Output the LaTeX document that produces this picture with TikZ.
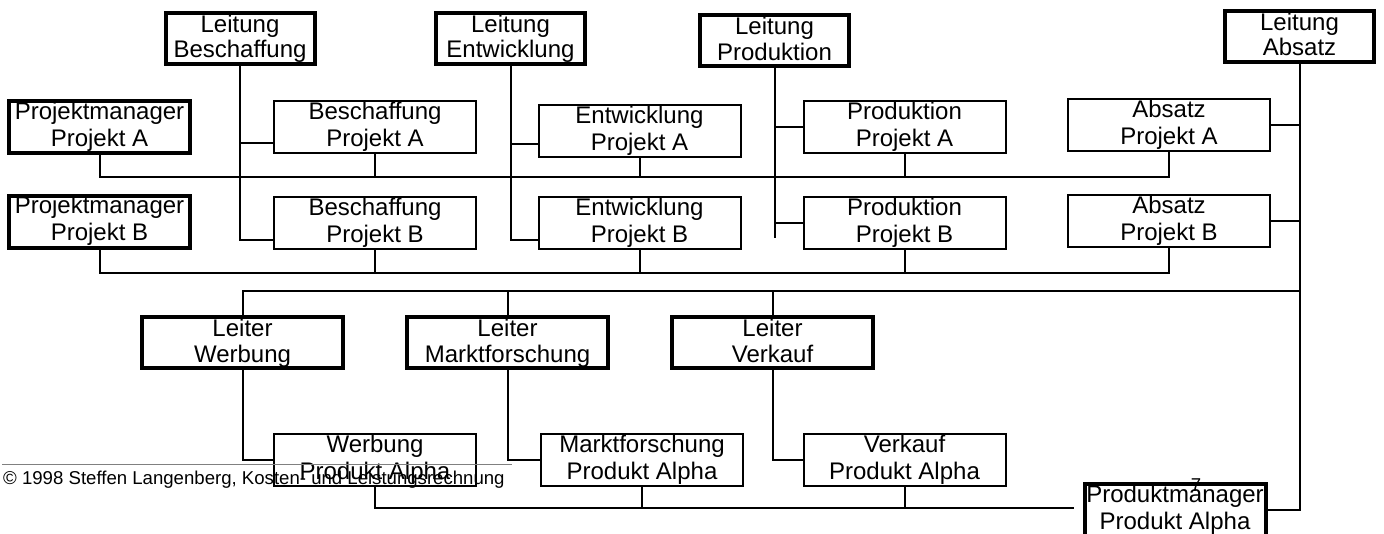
\documentclass[tikz,border=0pt]{standalone}
\usepackage{xcolor}
\usepackage{fontspec}
\setmainfont{Liberation Sans}
\usepackage{tikz}

\begin{document}
\begin{tikzpicture}[x=1pt, y=-1pt,
    box/.style={draw, line width=2pt, inner sep=0pt, align=center,
        minimum width=202pt, minimum height=52pt, text height=44.9pt, text depth=5.1pt,
        font=\fontsize{24}{27.4}\selectfont},
    chef/.style={box, line width=4pt, minimum width=149pt, minimum height=51pt,
        text height=43pt, text depth=4pt, font=\fontsize{24}{25.5}\selectfont},
    pm/.style={box, line width=4pt, minimum width=181pt, text height=43.4pt, text depth=4.6pt},
    leiter/.style={chef, minimum width=201pt},
    conn/.style={line width=2pt},
    fuss/.style={inner sep=0pt, font=\fontsize{18.6}{21}\selectfont}]

    \useasboundingbox (0,0) rectangle (1384,533);
    \clip (0,0) rectangle (1384,533);

    % Leitung
    \node[chef] (lbesch) at (240,38) {Leitung\\Beschaffung};
    \node[chef] (lentw) at (510.5,38) {Leitung\\Entwicklung};
    \node[chef] (lprod) at (774.5,40.5) {Leitung\\Produktion};
    \node[chef] (labs) at (1299.5,36) {Leitung\\Absatz};

    % Projekt A
    \node[pm] (pmA) at (99.5,127) {Projektmanager\\Projekt A};
    \node[box] (beschA) at (375,127) {Beschaffung\\Projekt A};
    \node[box] (entwA) at (639.5,130.5) {Entwicklung\\Projekt A};
    \node[box] (prodA) at (904.5,127) {Produktion\\Projekt A};
    \node[box] (absA) at (1169,125) {Absatz\\Projekt A};

    % Projekt B
    \node[pm] (pmB) at (99.5,221.5) {Projektmanager\\Projekt B};
    \node[box] (beschB) at (375,222.5) {Beschaffung\\Projekt B};
    \node[box] (entwB) at (639.5,222.5) {Entwicklung\\Projekt B};
    \node[box] (prodB) at (904.5,222.5) {Produktion\\Projekt B};
    \node[box] (absB) at (1169,220.5) {Absatz\\Projekt B};

    % Leiter
    \node[leiter] (lwerb) at (242.5,342.5) {Leiter\\Werbung};
    \node[leiter] (lmafo) at (507.5,342.5) {Leiter\\Marktforschung};
    \node[leiter] (lverk) at (772.5,342.5) {Leiter\\Verkauf};

    % Produkt Alpha
    \node[box] (werbP) at (375,460) {Werbung\\Produkt Alpha};
    \node[box] (mafoP) at (642,460) {Marktforschung\\Produkt Alpha};
    \node[box] (verkP) at (904.5,460) {Verkauf\\Produkt Alpha};
    \node[pm] (pmP) at (1175,510) {Produktmanager\\Produkt Alpha};

    \coordinate (rowA) at (0,177);
    \coordinate (rowB) at (0,273);
    \coordinate (rowL) at (0,291);
    \coordinate (rowP) at (0,508);

    % Leitung -> Projekte
    \coordinate (bA) at ([yshift=11pt]beschA.south west);
    \coordinate (bB) at ([yshift=10pt]beschB.south west);
    \draw[conn] (lbesch.south) |- (bB);
    \draw[conn] (lbesch.south |- bA) -- (bA);

    \coordinate (eA) at ([yshift=14pt]entwA.south west);
    \coordinate (eB) at ([yshift=10pt]entwB.south west);
    \draw[conn] (lentw.south) |- (eB);
    \draw[conn] (lentw.south |- eA) -- (eA);

    \coordinate (pEnd) at ([yshift=12pt]lprod.south |- prodB.south);
    \draw[conn] (lprod.south) -- (pEnd);
    \draw[conn] (lprod.south |- prodA.west) -- (prodA.west);
    \draw[conn] (lprod.south |- prodB.west) -- (prodB.west);

    \draw[conn] (labs.south) |- (pmP.east);
    \draw[conn] (absA.east) -- (absA.east -| labs.south);
    \draw[conn] (absB.east) -- (absB.east -| labs.south);

    % Projektlinien
    \draw[conn] (pmA.south) -- (pmA.south |- rowA) -- (absA.south |- rowA) -- (absA.south);
    \foreach \n in {beschA, entwA, prodA}
        \draw[conn] (\n.south) -- (\n.south |- rowA);
    \draw[conn] (pmB.south) -- (pmB.south |- rowB) -- (absB.south |- rowB) -- (absB.south);
    \foreach \n in {beschB, entwB, prodB}
        \draw[conn] (\n.south) -- (\n.south |- rowB);

    % Absatz -> Leiter
    \draw[conn] (lwerb.north) -- (lwerb.north |- rowL) -- (labs.south |- rowL);
    \foreach \n in {lmafo, lverk}
        \draw[conn] (\n.north) -- (\n.north |- rowL);
    \draw[conn] (lwerb.south) |- (werbP.west);
    \draw[conn] (lmafo.south) |- (mafoP.west);
    \draw[conn] (lverk.south) |- (verkP.west);

    % Produktlinie
    \draw[conn] (werbP.south) -- (werbP.south |- rowP) -- ([xshift=-9pt]pmP.west |- rowP);
    \foreach \n in {mafoP, verkP}
        \draw[conn] (\n.south) -- (\n.south |- rowP);

    % Fusszeile
    \draw[gray, line width=1pt] (2,464) -- (512,464);
    \node[fuss, anchor=base west] (copy) at (3,484) {© 1998 Steffen Langenberg, Kosten- und Leistungsrechnung};
    \node[fuss, anchor=base] (seite) at (1196,491) {7};
\end{tikzpicture}
\end{document}
